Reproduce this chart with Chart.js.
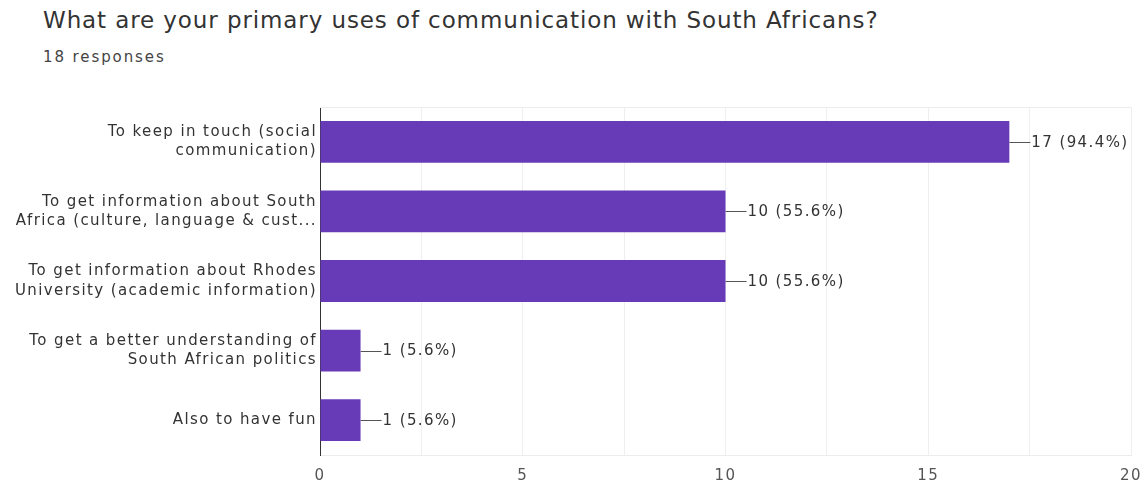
<!DOCTYPE html>
<html lang="en">
<head>
    <meta charset="UTF-8">
    <title>Primary uses of communication</title>
    <script src="https://cdn.jsdelivr.net/npm/chart.js@4.4.0/dist/chart.umd.min.js"></script>
    <style>
        body {
            margin: 0;
            background: #fff;
            font-family: 'DejaVu Sans', Arial, sans-serif;
        }
        .wrap {
            position: relative;
            width: 1142px;
            height: 488px;
        }
        .title {
            position: absolute;
            left: 43px;
            top: 7px;
            font-size: 23px;
            letter-spacing: 0.9px;
            color: #333;
            white-space: nowrap;
        }
        .sub {
            position: absolute;
            left: 43px;
            top: 48px;
            font-size: 15px;
            letter-spacing: 1.9px;
            color: #444;
        }
        canvas { position: absolute; left: 0; top: 0; }
    </style>
</head>
<body>
    <div class="wrap">
        <div class="title">What are your primary uses of communication with South Africans?</div>
        <div class="sub">18 responses</div>
        <canvas id="chart" width="1142" height="488"></canvas>
    </div>

    <script>
        // categories (already wrapped the way the form shows them)
        const categories = [
            ['To keep in touch (social', 'communication)'],
            ['To get information about South', 'Africa (culture, language & cust...'],
            ['To get information about Rhodes', 'University (academic information)'],
            ['To get a better understanding of', 'South African politics'],
            ['Also to have fun']
        ];
        const counts = [17, 10, 10, 1, 1];
        const percents = ['94.4%', '55.6%', '55.6%', '5.6%', '5.6%'];
        const xTicks = [0, 5, 10, 15, 20];

        const barColor = '#673ab7';
        const textColor = '#333';
        const fontFamily = '"DejaVu Sans", Arial, sans-serif';

        // the screenshot text is quite wide, so space the canvas letters out a bit
        const spacing = {
            id: 'spacing',
            beforeDraw(chart) { chart.ctx.letterSpacing = '1.4px'; },
            afterDraw(chart) { chart.ctx.letterSpacing = '0px'; }
        };

        // value labels with the little leader line, google forms style
        const valueLabels = {
            id: 'valueLabels',
            afterDatasetsDraw(chart) {
                const ctx = chart.ctx;
                const meta = chart.getDatasetMeta(0);
                ctx.save();
                ctx.font = '15px ' + fontFamily;
                ctx.fillStyle = textColor;
                ctx.strokeStyle = '#555';
                ctx.lineWidth = 1;
                ctx.textBaseline = 'middle';
                meta.data.forEach((bar, i) => {
                    const y = Math.round(bar.y) + 0.5;
                    ctx.beginPath();
                    ctx.moveTo(bar.x, y);
                    ctx.lineTo(bar.x + 21, y);
                    ctx.stroke();
                    ctx.fillText(counts[i] + ' (' + percents[i] + ')', bar.x + 22, bar.y + 1);
                });
                // faint top border of the plot
                const a = chart.chartArea;
                ctx.strokeStyle = '#ececec';
                ctx.beginPath();
                ctx.moveTo(a.left, a.top + 0.5);
                ctx.lineTo(a.right, a.top + 0.5);
                ctx.stroke();
                ctx.restore();
            }
        };

        new Chart(document.getElementById('chart'), {
            type: 'bar',
            data: {
                labels: categories,
                datasets: [{
                    data: counts,
                    backgroundColor: barColor,
                    borderWidth: 0,
                    categoryPercentage: 0.6,
                    barPercentage: 1.0
                }]
            },
            options: {
                indexAxis: 'y',
                responsive: false,
                animation: false,
                layout: { padding: { top: 107, right: 11, left: 0, bottom: 0 } },
                plugins: {
                    legend: { display: false },
                    tooltip: { enabled: false }
                },
                scales: {
                    x: {
                        min: xTicks[0],
                        max: xTicks[xTicks.length - 1],
                        ticks: {
                            stepSize: 2.5,
                            color: '#555',
                            font: { family: fontFamily, size: 15 },
                            padding: 12,
                            autoSkip: false,
                            maxRotation: 0,
                            callback: v => xTicks.includes(v) ? String(v) : ''
                        },
                        grid: {
                            color: ctx => ctx.tick && ctx.tick.value === 0 ? '#333' : '#efefef',
                            drawTicks: false
                        },
                        border: { display: true, color: '#ececec' },
                        afterFit: s => {
                            s.height = 33;
                            s.paddingLeft = 0;
                            s.paddingRight = 0;
                        }
                    },
                    y: {
                        ticks: {
                            color: textColor,
                            font: { family: fontFamily, size: 15, lineHeight: 1.3 },
                            padding: 3
                        },
                        grid: { display: false, drawTicks: false },
                        border: { display: true, color: '#333', width: 1 },
                        afterFit: s => { s.width = 320; }
                    }
                }
            },
            plugins: [spacing, valueLabels]
        });
    </script>
</body>
</html>
